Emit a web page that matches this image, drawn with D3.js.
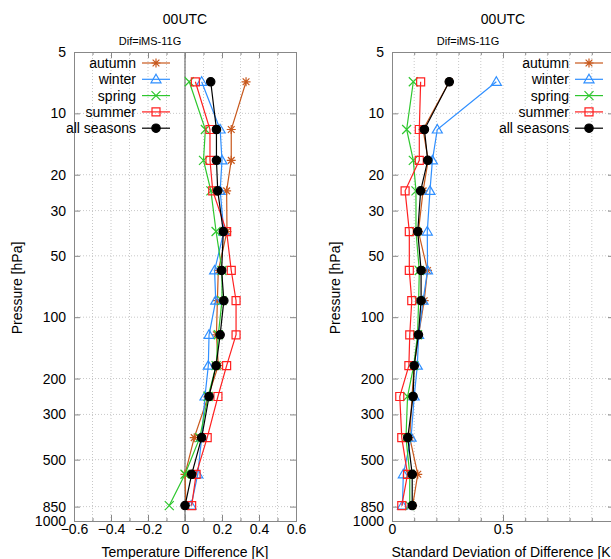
<!DOCTYPE html>
<html>
<head>
<meta charset="utf-8">
<script src="https://cdn.jsdelivr.net/npm/d3@7"></script>
<style>
body { margin: 0; background: #fff; }
text { font-family: "Liberation Sans", Arial, sans-serif; fill: #000; }
</style>
</head>
<body>
<div id="chart"></div>
<script>
// pressure levels (hPa) of the profile points
var levels = [7, 12, 17, 24, 38, 59, 83, 122, 173, 245, 390, 590, 840];

var seasons = ["autumn", "winter", "spring", "summer", "all seasons"];
var colors = ["#c8581c", "#2f8fff", "#2ec72e", "#ff2020", "#000000"];
var markers = ["star", "triangle", "cross", "square", "dot"];

// mean temperature difference [K]
var meanAutumn = [0.33, 0.25, 0.25, 0.225, 0.227, 0.18, 0.175, 0.17, 0.18, 0.125, 0.05, 0.0, 0.005];
var meanWinter = [0.09, 0.19, 0.20, 0.19, 0.21, 0.16, 0.166, 0.13, 0.126, 0.108, 0.09, 0.069, 0.033];
var meanSpring = [0.023, 0.11, 0.10, 0.14, 0.168, 0.2, 0.2, 0.18, 0.168, 0.125, 0.08, 0.0, -0.085];
var meanSummer = [0.056, 0.135, 0.135, 0.15, 0.225, 0.25, 0.276, 0.276, 0.225, 0.178, 0.12, 0.06, 0.036];
var meanAll = [0.139, 0.17, 0.17, 0.177, 0.207, 0.198, 0.21, 0.19, 0.168, 0.13, 0.09, 0.036, 0.0];

// standard deviation of difference [K]
var sdAutumn = [0.258, 0.14, 0.163, 0.14, 0.119, 0.16, 0.145, 0.12, 0.1, 0.09, 0.08, 0.116, 0.093];
var sdWinter = [0.47, 0.204, 0.182, 0.171, 0.159, 0.16, 0.14, 0.12, 0.114, 0.1, 0.086, 0.051, 0.047];
var sdSpring = [0.096, 0.066, 0.096, 0.108, 0.108, 0.123, 0.12, 0.115, 0.098, 0.07, 0.063, 0.08, 0.08];
var sdSummer = [0.129, 0.123, 0.123, 0.059, 0.078, 0.078, 0.089, 0.08, 0.076, 0.035, 0.044, 0.07, 0.044];
var sdAll = [0.258, 0.146, 0.161, 0.129, 0.116, 0.131, 0.131, 0.119, 0.1, 0.095, 0.071, 0.091, 0.091];

var pressureTicks = [5, 10, 20, 30, 50, 100, 200, 300, 500, 850, 1000];
var meanTicks = [-0.6, -0.4, -0.2, 0, 0.2, 0.4, 0.6];
var sdTicks = [0, 0.5, 1];

var W = 611, H = 559;
var plotTop = 52, plotBottom = 521, pw = 222;

var svg = d3.select("#chart").append("svg")
    .attr("width", W)
    .attr("height", H);

var y = d3.scaleLog().domain([5, 1000]).range([plotTop, plotBottom]);

function markerPath(type) {
    var s = 4.5;
    if (type == "star") {
        return "M" + (-s) + ",0L" + s + ",0M0," + (-s) + "L0," + s +
            "M" + (-s*0.75) + "," + (-s*0.75) + "L" + (s*0.75) + "," + (s*0.75) +
            "M" + (-s*0.75) + "," + (s*0.75) + "L" + (s*0.75) + "," + (-s*0.75);
    }
    if (type == "cross") {
        return "M" + (-s) + "," + (-s) + "L" + s + "," + s + "M" + (-s) + "," + s + "L" + s + "," + (-s);
    }
    if (type == "triangle") {
        return "M0," + (-s - 0.5) + "L" + (s + 0.5) + "," + (s - 1) + "L" + (-s - 0.5) + "," + (s - 1) + "Z";
    }
    if (type == "square") {
        return "M-4,-4L4,-4L4,4L-4,4Z";
    }
    return d3.symbol().type(d3.symbolCircle).size(55)();
}

function drawMarker(g, type, color, cx, cy) {
    g.append("path")
        .attr("d", markerPath(type))
        .attr("transform", "translate(" + cx + "," + cy + ")")
        .attr("fill", type == "dot" ? color : "none")
        .attr("stroke", color)
        .attr("stroke-width", 1.2);
}

function drawPanel(p) {
    var x = d3.scaleLinear().domain(p.domain).range([p.left, p.left + pw]);
    var g = svg.append("g");

    // grid
    var grid = g.append("g").attr("stroke", "#c8c8c8").attr("stroke-dasharray", "1,2");
    grid.selectAll("line.vx").data(p.minor.filter(function (d) {
            return Math.abs(d - p.domain[0]) > 1e-6 && Math.abs(d - p.domain[1]) > 1e-6; }))
        .enter().append("line")
        .attr("x1", function (d) { return x(d); })
        .attr("x2", function (d) { return x(d); })
        .attr("y1", plotTop).attr("y2", plotBottom);
    grid.selectAll("line.hy").data(pressureTicks.slice(1, -1))
        .enter().append("line")
        .attr("x1", p.left).attr("x2", p.left + pw)
        .attr("y1", function (d) { return y(d); })
        .attr("y2", function (d) { return y(d); });

    if (p.zeroLine) {
        g.append("line")
            .attr("x1", x(0)).attr("x2", x(0))
            .attr("y1", plotTop).attr("y2", plotBottom)
            .attr("stroke", "#555").attr("stroke-width", 1);
    }

    // axes, ticks pointing inward like gnuplot
    var ax = g.append("g").attr("transform", "translate(0," + plotBottom + ")")
        .call(d3.axisBottom(x).tickValues(p.ticks).tickSize(-6).tickPadding(3).tickFormat(d3.format("")));
    g.append("g").attr("transform", "translate(0," + plotBottom + ")")
        .call(d3.axisBottom(x).tickValues(p.minor).tickSize(-3).tickFormat(""));
    g.append("g").attr("transform", "translate(0," + plotTop + ")")
        .call(d3.axisTop(x).tickValues(p.ticks).tickSize(-6).tickFormat(""));
    g.append("g").attr("transform", "translate(0," + plotTop + ")")
        .call(d3.axisTop(x).tickValues(p.minor).tickSize(-3).tickFormat(""));
    g.append("g").attr("transform", "translate(" + p.left + ",0)")
        .call(d3.axisLeft(y).tickValues(pressureTicks).tickSize(-6).tickPadding(8).tickFormat(d3.format("d")));
    g.append("g").attr("transform", "translate(" + (p.left + pw) + ",0)")
        .call(d3.axisRight(y).tickValues(pressureTicks).tickSize(-6).tickFormat(""));

    g.selectAll(".domain").attr("stroke", "#888");
    g.selectAll(".tick line").attr("stroke", "#888");
    g.selectAll(".tick text").style("font-size", "14px").attr("fill", "#000");

    // profiles
    var line = d3.line()
        .x(function (d) { return x(d[0]); })
        .y(function (d) { return y(d[1]); });

    p.series.forEach(function (vals, i) {
        var pts = vals.map(function (v, j) { return [v, levels[j]]; });
        var s = g.append("g");
        s.append("path")
            .attr("d", line(pts))
            .attr("fill", "none")
            .attr("stroke", colors[i])
            .attr("stroke-width", 1.2);
        pts.forEach(function (pt) {
            drawMarker(s, markers[i], colors[i], x(pt[0]), y(pt[1]));
        });
    });

    // legend
    var lg = g.append("g");
    seasons.forEach(function (name, i) {
        var ly = 63 + i * 16.3;
        lg.append("text")
            .attr("x", p.legendX)
            .attr("y", ly)
            .attr("dy", "0.35em")
            .attr("text-anchor", "end")
            .style("font-size", "14px")
            .text(name);
        lg.append("line")
            .attr("x1", p.legendX + 6).attr("x2", p.legendX + 34)
            .attr("y1", ly).attr("y2", ly)
            .attr("stroke", colors[i]).attr("stroke-width", 1.2);
        drawMarker(lg, markers[i], colors[i], p.legendX + 20, ly);
    });

    // titles
    var cx = p.left + pw / 2;
    g.append("text").attr("x", cx).attr("y", 24).attr("text-anchor", "middle")
        .style("font-size", "14px").text("00UTC");
    g.append("text").attr("x", p.left + 76).attr("y", 45).attr("text-anchor", "middle")
        .style("font-size", "11px").text("Dif=iMS-11G");
    g.append("text").attr("x", cx).attr("y", 557).attr("text-anchor", "middle")
        .style("font-size", "14px").text(p.xLabel);
    g.append("text")
        .attr("transform", "translate(" + (p.left - 52) + ",288) rotate(-90)")
        .attr("text-anchor", "middle")
        .style("font-size", "14px").text("Pressure [hPa]");
}

drawPanel({
    left: 74,
    domain: [-0.6, 0.6],
    ticks: meanTicks,
    minor: d3.range(-6, 7).map(function (d) { return d / 10; }),
    series: [meanAutumn, meanWinter, meanSpring, meanSummer, meanAll],
    legendX: 136,
    zeroLine: true,
    xLabel: "Temperature Difference [K]"
});

drawPanel({
    left: 392,
    domain: [0, 1],
    ticks: sdTicks,
    minor: d3.range(0, 11).map(function (d) { return d / 10; }),
    series: [sdAutumn, sdWinter, sdSpring, sdSummer, sdAll],
    legendX: 569,
    zeroLine: false,
    xLabel: "Standard Deviation of Difference [K]"
});
</script>
</body>
</html>
